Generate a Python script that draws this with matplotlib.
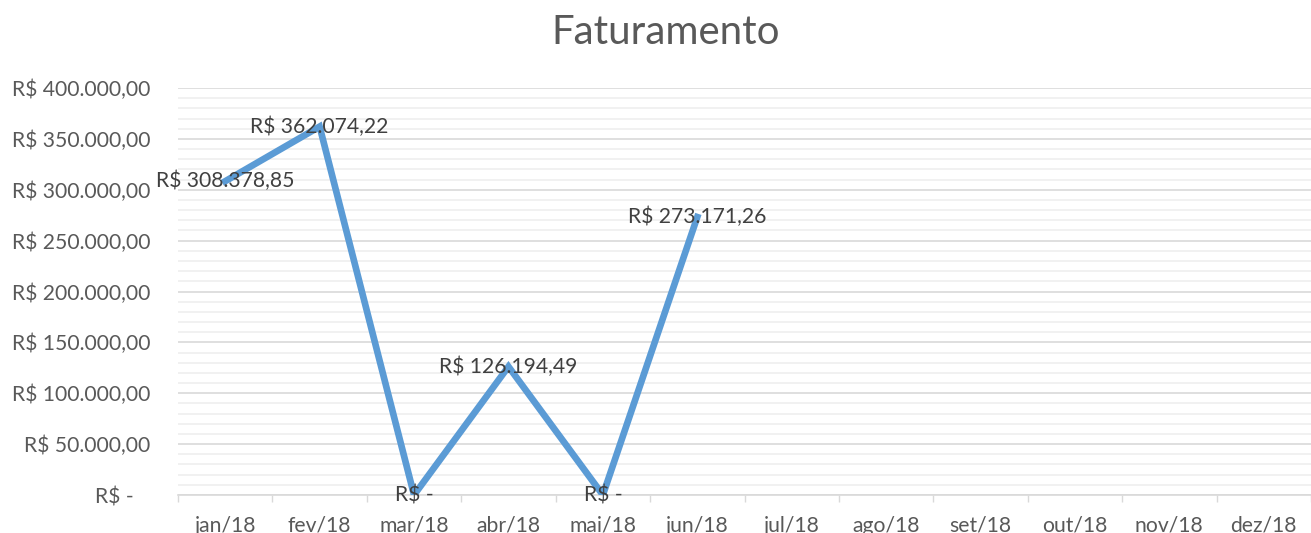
import numpy as np
import matplotlib
matplotlib.use('Agg')
from matplotlib import pyplot as plt
from matplotlib.ticker import MultipleLocator, FuncFormatter

meses = ['jan/18', 'fev/18', 'mar/18', 'abr/18', 'mai/18', 'jun/18',
         'jul/18', 'ago/18', 'set/18', 'out/18', 'nov/18', 'dez/18']
faturamento = [308378.85, 362074.22, 0.0, 126194.49, 0.0, 273171.26]

cinza = '#595959'
azul = '#5B9BD5'


def reais(v, pos=None):
    if abs(v) < 0.005:
        return 'R$ -'
    s = '{:,.2f}'.format(v)
    s = s.replace(',', 'X').replace('.', ',').replace('X', '.')
    return 'R$ ' + s


def reais_eixo(v, pos=None):
    # no eixo o zero fica um pouco recuado, como no Excel
    if abs(v) < 0.005:
        return 'R$ -   '
    return reais(v)


plt.rcParams['font.family'] = ['Lato', 'DejaVu Sans']

fig = plt.figure(figsize=(13.11, 5.33), dpi=100)
ax = fig.add_axes([178 / 1311, 1 - 495 / 533, 1 - 178 / 1311, (495 - 88) / 533])

x = np.arange(len(faturamento))
ax.plot(x, faturamento, color=azul, linewidth=4.8, solid_joinstyle='miter', zorder=3)

for xi, v in zip(x, faturamento):
    ax.text(xi, v, reais(v), ha='center', va='center', fontsize=15.2, color='#404040', zorder=4)

ax.set_xlim(-0.5, len(meses) - 0.5)
ax.set_ylim(0, 400000)
ax.set_xticks(np.arange(len(meses)))
ax.set_xticklabels(meses)
ax.set_xticks(np.arange(len(meses) + 1) - 0.5, minor=True)
ax.tick_params(axis='x', which='major', length=0, pad=15, labelsize=15.2, labelcolor=cinza)
ax.tick_params(axis='x', which='minor', length=5, width=1, color='#D9D9D9')

ax.yaxis.set_major_locator(MultipleLocator(50000))
ax.yaxis.set_minor_locator(MultipleLocator(10000))
ax.yaxis.set_major_formatter(FuncFormatter(reais_eixo))
ax.tick_params(axis='y', which='both', length=0, pad=20, labelsize=15.2, labelcolor=cinza)

ax.grid(axis='y', which='major', color='#D9D9D9', linewidth=1.2, zorder=0)
ax.grid(axis='y', which='minor', color='#EFEFEF', linewidth=1.2, zorder=0)
ax.set_axisbelow(True)

for lado in ['top', 'right', 'left']:
    ax.spines[lado].set_visible(False)
ax.spines['bottom'].set_color('#D9D9D9')
ax.spines['bottom'].set_linewidth(1.2)

fig.text(0.508, 1 - 33 / 533, 'Faturamento', ha='center', va='center', fontsize=29, color=cinza)

fig.savefig('out.png', dpi=100)
